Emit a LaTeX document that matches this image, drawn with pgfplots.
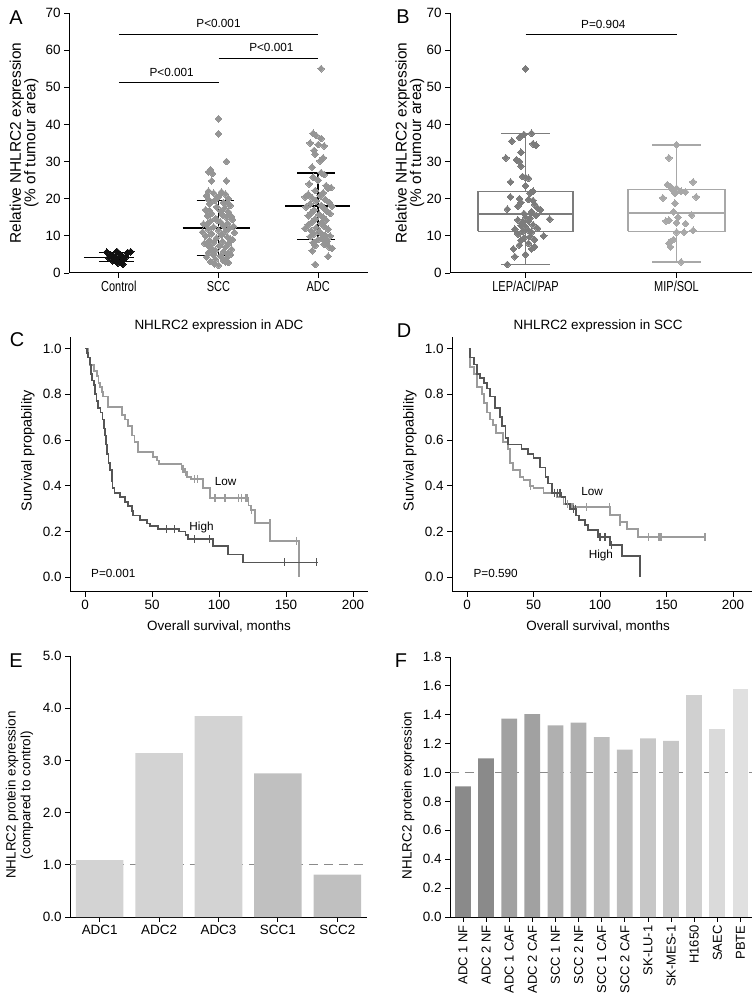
\documentclass[border=0pt]{standalone}
\usepackage{fontspec}
\setmainfont{Liberation Sans}
\newfontfamily\narrowfont[FakeStretch=0.76]{Liberation Sans}
\usepackage{pgfplots}
\pgfplotsset{compat=1.18}

\definecolor{ctl}{HTML}{111111}
\definecolor{pts}{HTML}{959595}
\definecolor{lep}{HTML}{7C7C7C}
\definecolor{mip}{HTML}{A8A8A8}
\definecolor{hi}{HTML}{555555}
\definecolor{lo}{HTML}{9C9C9C}
\definecolor{refline}{HTML}{8A8A8A}

\newcommand{\lab}{\fontsize{13.5}{15}\selectfont}
\newcommand{\annot}{\fontsize{11.8}{13}\selectfont}

\pgfplotsset{
  panel/.style={
    scale only axis, anchor=south west, clip=false,
    axis x line*=bottom, axis y line*=left,
    axis line style={line width=1pt,-},
    tick align=outside, major tick length=5pt,
    tick style={line width=0.9pt,black},
    tick label style={font=\lab},
    label style={font=\lab},
    every axis title shift=0pt,
    /pgf/number format/assume math mode=true,
  },
  dia/.style={only marks, color=#1, mark=square*, mark size=2.4pt,
    mark options={rotate=45, draw=#1, fill=#1, line width=0pt}},
  km/.style={const plot, line width=1.8pt, color=#1},
  cens/.style={only marks, mark=|, mark size=4pt,
    mark options={line width=1.3pt, draw=#1}},
  oneplace/.style={/pgf/number format/.cd, fixed, fixed zerofill, precision=1},
}

\begin{document}
\begin{tikzpicture}
\useasboundingbox (0,0) rectangle (753bp,1001bp);

% panel letters
\node[font=\fontsize{20}{22}\selectfont] at (16bp,983bp) {A};
\node[font=\fontsize{20}{22}\selectfont] at (403bp,984bp) {B};
\node[font=\fontsize{20}{22}\selectfont] at (17bp,661bp) {C};
\node[font=\fontsize{20}{22}\selectfont] at (404bp,670bp) {D};
\node[font=\fontsize{20}{22}\selectfont] at (16bp,340bp) {E};
\node[font=\fontsize{20}{22}\selectfont] at (401bp,340bp) {F};

% ---------- A
\begin{axis}[panel, at={(69bp,728bp)}, width=299bp, height=260bp,
  xmin=-0.5, xmax=2.5, ymin=0, ymax=70, ytick={0,10,20,30,40,50,60,70},
  xtick={0,1,2}, xticklabels={Control,SCC,ADC},
  xticklabel style={font=\narrowfont\fontsize{14.5}{15}\selectfont},
  ylabel style={at={(axis description cs:-0.15,0.5)}, anchor=center, align=center,
    font=\fontsize{15.5}{14.5}\selectfont},
  ylabel={Relative NHLRC2 expression\\(\% of tumour area)}]
\addplot[dia=pts] coordinates {
 (1.00,41.5)(1.00,37.5)(1.08,30.0)(0.92,27.8)(0.90,27.2)(0.94,26.8)(0.93,24.8)(1.08,24.8)
 (0.90,22.0)(1.03,21.8)(0.95,21.5)(1.07,21.2)(0.88,20.8)(1.00,20.5)(1.10,20.0)(0.96,19.5)
 (1.05,19.0)(0.91,18.6)(1.12,18.2)(0.98,17.8)(1.06,17.4)(0.87,17.0)(1.02,16.7)(1.10,16.4)
 (0.93,16.0)(1.04,15.7)(0.89,15.4)(1.08,15.0)(0.97,14.7)(1.14,14.4)(0.92,14.0)(1.02,13.7)
 (1.09,13.4)(0.88,13.0)(1.05,12.7)(0.95,12.4)(1.11,12.1)(0.90,11.8)(1.00,11.5)(1.07,11.2)
 (1.16,10.9)(0.93,10.6)(1.03,10.3)(0.87,10.0)(1.09,9.7)(0.98,9.4)(1.12,9.1)(0.91,8.8)
 (1.04,8.5)(0.95,8.2)(1.10,7.9)(0.89,7.6)(1.01,7.3)(1.07,7.0)(0.93,6.7)(1.13,6.4)
 (0.97,6.1)(1.05,5.8)(0.90,5.5)(1.09,5.2)(0.95,4.9)(1.02,4.6)(0.88,4.3)(1.08,4.0)
 (0.97,3.7)(1.05,3.4)(0.92,3.1)(1.10,2.8)(0.96,2.5)(1.00,2.1)(0.85,13.2)(1.13,15.2)
 (0.84,11.0)(1.14,9.0)(0.91,16.8)(1.09,18.8)(1.15,12.6)(0.86,8.0)(0.99,14.2)(0.90,19.8)
 (1.12,5.0)(1.07,3.0)};
\addplot[dia=pts] coordinates {
 (2.03,55.0)(1.95,37.6)(1.98,37.0)(2.03,36.2)(1.92,35.0)(2.00,34.6)(2.06,34.2)(1.96,33.0)
 (1.97,32.0)(2.05,31.0)(2.02,30.2)(1.94,28.5)(2.03,27.0)(1.95,25.8)(2.00,25.0)(1.91,24.0)
 (2.08,23.5)(2.10,22.8)(1.97,22.2)(2.05,21.6)(1.90,21.2)(2.02,20.8)(1.94,20.2)(2.07,19.8)
 (1.98,19.4)(2.11,19.0)(1.92,18.6)(2.03,18.2)(1.88,17.8)(2.06,17.4)(1.96,17.0)(2.09,16.6)
 (1.93,16.2)(2.01,15.8)(1.90,15.4)(2.05,15.0)(1.97,14.6)(2.08,14.2)(1.94,13.8)(2.03,13.4)
 (1.90,13.0)(2.06,12.6)(1.98,12.2)(2.10,11.8)(1.93,11.4)(2.02,11.0)(1.96,10.6)(2.07,10.2)
 (1.92,9.8)(2.04,9.4)(2.00,9.0)(2.09,8.6)(1.95,8.2)(2.06,7.8)(1.97,7.4)(2.11,7.0)
 (2.14,6.6)(1.94,6.0)(2.10,4.5)(1.97,2.3)(2.12,16.0)(1.87,20.5)(1.87,12.0)(2.13,23.0)
 (2.06,26.5)(2.12,10.0)(2.14,18.0)};
\addplot[dia=ctl] coordinates {
 (-0.12,5.6)(-0.02,5.8)(0.09,5.5)(0.12,5.7)(-0.08,4.9)(0.03,4.7)(0.07,4.3)(-0.10,4.1)
 (-0.03,3.9)(0.05,3.6)(-0.06,3.3)(0.02,3.0)(-0.01,2.7)(0.04,2.4)(-0.05,4.5)(0.00,5.2)};
% mean and SD
\addplot[black, line width=1.7pt] coordinates {(-0.35,4.2)(0.15,4.2)};
\addplot[black, line width=1.7pt] coordinates {(-0.2,3.1)(0.15,3.1)};
\addplot[black, line width=1.7pt] coordinates {(-0.2,5.5)(0.15,5.5)};
\addplot[black, line width=1.7pt] coordinates {(0,3.1)(0,5.5)};
\addplot[black, line width=1.7pt] coordinates {(0.64,12.1)(1.32,12.1)};
\addplot[black, line width=1.7pt] coordinates {(0.78,4.7)(1.16,4.7)};
\addplot[black, line width=1.7pt] coordinates {(0.78,19.5)(1.16,19.5)};
\addplot[black, line width=1.7pt] coordinates {(1,4.7)(1,19.5)};
\addplot[black, line width=1.7pt] coordinates {(1.67,18.0)(2.32,18.0)};
\addplot[black, line width=1.7pt] coordinates {(1.79,9.0)(2.165,9.0)};
\addplot[black, line width=1.7pt] coordinates {(1.79,27.0)(2.165,27.0)};
\addplot[black, line width=1.7pt] coordinates {(2,9.0)(2,27.0)};
% significance
\addplot[black, line width=1pt] coordinates {(0,64.3)(2,64.3)};
\addplot[black, line width=1pt] coordinates {(1,57.8)(2,57.8)};
\addplot[black, line width=1pt] coordinates {(0,51.3)(1,51.3)};
\node[font=\annot] at (axis cs:1,67.2) {P<0.001};
\node[font=\annot] at (axis cs:1.53,60.6) {P<0.001};
\node[font=\annot] at (axis cs:0.53,54.1) {P<0.001};
\end{axis}

% ---------- B
\begin{axis}[panel, at={(450bp,728bp)}, width=302bp, height=260bp,
  xmin=-0.5, xmax=1.5, ymin=0, ymax=70, ytick={0,10,20,30,40,50,60,70},
  xtick={0,1}, xticklabels={LEP/ACI/PAP,MIP/SOL},
  xticklabel style={font=\narrowfont\fontsize{14.5}{15}\selectfont},
  ylabel style={at={(axis description cs:-0.133,0.5)}, anchor=center, align=center,
    font=\fontsize{15.5}{14.5}\selectfont},
  ylabel={Relative NHLRC2 expression\\(\% of tumour area)}]
% boxes
\addplot[lep, line width=1.4pt] coordinates {(-0.315,11.2)(0.315,11.2)(0.315,22)(-0.315,22)(-0.315,11.2)};
\addplot[lep, line width=1.4pt] coordinates {(-0.315,15.9)(0.315,15.9)};
\addplot[lep, line width=1.4pt] coordinates {(0,22)(0,37.6)};
\addplot[lep, line width=1.4pt] coordinates {(0,11.2)(0,2.3)};
\addplot[lep, line width=1.4pt] coordinates {(-0.16,37.6)(0.16,37.6)};
\addplot[lep, line width=1.4pt] coordinates {(-0.16,2.3)(0.16,2.3)};
\addplot[mip, line width=1.4pt] coordinates {(0.68,11.2)(1.32,11.2)(1.32,22.5)(0.68,22.5)(0.68,11.2)};
\addplot[mip, line width=1.4pt] coordinates {(0.68,16.2)(1.32,16.2)};
\addplot[mip, line width=1.4pt] coordinates {(1,22.5)(1,34.5)};
\addplot[mip, line width=1.4pt] coordinates {(1,11.2)(1,3.0)};
\addplot[mip, line width=1.4pt] coordinates {(0.84,34.5)(1.16,34.5)};
\addplot[mip, line width=1.4pt] coordinates {(0.84,3.0)(1.16,3.0)};
\addplot[dia=lep] coordinates {
 (0.00,55.0)(0.04,37.6)(-0.01,37.3)(-0.04,36.5)(-0.09,35.5)(0.05,34.8)(0.07,34.4)(-0.03,32.5)
 (-0.13,31.0)(-0.06,30.5)(-0.04,30.0)(-0.03,28.8)(-0.02,26.0)(0.00,25.8)(0.02,25.5)(-0.10,24.5)
 (0.00,23.5)(0.05,22.0)(0.03,21.5)(-0.10,20.5)(-0.04,20.0)(0.02,19.8)(0.05,19.5)(-0.03,19.0)
 (0.06,18.5)(-0.05,18.0)(0.08,17.5)(-0.12,17.2)(0.10,17.0)(0.04,16.5)(-0.01,16.0)(0.07,15.5)
 (0.00,15.0)(0.03,14.8)(0.16,14.5)(-0.05,14.3)(0.02,14.0)(-0.02,13.5)(0.05,13.0)(-0.03,12.8)
 (0.00,12.5)(0.08,12.0)(-0.07,11.8)(0.02,11.5)(-0.02,11.2)(0.04,11.0)(-0.05,10.5)(0.12,10.0)
 (0.03,9.8)(-0.01,9.5)(0.06,9.0)(-0.03,8.8)(0.02,8.0)(-0.04,7.5)(0.06,7.1)(-0.08,6.5)
 (0.04,6.5)(0.00,5.0)(-0.07,4.4)(-0.12,2.3)};
\addplot[dia=mip] coordinates {
 (1.00,34.5)(0.95,31.0)(1.11,24.5)(0.94,23.8)(0.96,23.2)(1.00,22.8)(0.97,22.5)(1.03,22.0)
 (1.06,21.8)(0.99,21.5)(1.13,20.5)(0.91,20.2)(0.99,18.8)(0.98,16.5)(1.10,15.6)(1.01,15.0)
 (0.95,14.2)(0.93,14.0)(1.06,13.3)(1.00,13.5)(1.11,11.5)(1.00,11.0)(1.05,11.0)(0.98,9.0)
 (0.96,8.5)(0.95,8.0)(0.96,7.0)(1.03,3.0)};
\addplot[black, line width=1pt] coordinates {(0,64.3)(1,64.3)};
\node[font=\annot] at (axis cs:0.515,66.9) {P=0.904};
\end{axis}

% ---------- C
\begin{axis}[panel, at={(70bp,409bp)}, width=298bp, height=255bp,
  xmin=-11.2, xmax=211.2, ymin=-0.064, ymax=1.05,
  xtick={0,50,100,150,200}, ytick={0,0.2,0.4,0.6,0.8,1},
  yticklabel style={oneplace},
  title={NHLRC2 expression in ADC},
  title style={at={(axis description cs:0.5,1.043)}, anchor=center, font=\lab},
  xlabel={Overall survival, months},
  xlabel style={at={(axis description cs:0.5,-0.137)}, anchor=center},
  ylabel={Survival propability},
  ylabel style={at={(axis description cs:-0.141,0.553)}, anchor=center,
    font=\fontsize{14.5}{15}\selectfont}]
\addplot[km=lo] coordinates {
 (0,1.0)(2,0.96)(3.7,0.926)(7,0.90)(8.7,0.88)(10,0.85)(11.2,0.83)(12.5,0.81)(13.7,0.79)
 (17,0.744)(27.4,0.71)(30,0.69)(32,0.66)(35,0.62)(37,0.59)(39.8,0.547)(51,0.525)(53.5,0.51)
 (55,0.495)(72,0.475)(74.6,0.46)(76,0.44)(79,0.43)(88,0.39)(93,0.346)(122,0.314)(124,0.293)
 (126.7,0.237)(138,0.159)(160,0.0)};
\addplot[cens=lo] coordinates {
 (72.5,0.475)(73.5,0.475)(75,0.46)(81.6,0.43)(84,0.43)(97,0.346)(104.5,0.346)(114.4,0.346)
 (117,0.346)(120,0.346)(121,0.346)(124.5,0.293)(138,0.237)(158,0.159)};
\addplot[km=hi] coordinates {
 (0,1.0)(1.5,0.98)(2.5,0.96)(3.5,0.93)(4.5,0.89)(5.5,0.86)(6.5,0.84)(7.5,0.80)(8.5,0.77)
 (9.5,0.74)(11.5,0.72)(13,0.69)(14,0.65)(15,0.62)(15.8,0.58)(16.5,0.54)(17.5,0.50)(18.7,0.47)
 (19.9,0.42)(20.5,0.39)(22,0.37)(26,0.35)(30,0.33)(32,0.31)(35,0.29)(36,0.27)(41,0.25)
 (46,0.235)(48.5,0.225)(54.7,0.21)(70,0.2)(75,0.185)(77,0.167)(95.8,0.137)(107,0.10)
 (118,0.065)(174,0.065)};
\addplot[cens=hi] coordinates {
 (61,0.21)(67,0.21)(81.6,0.167)(92.8,0.167)(149,0.065)(173,0.065)};
\node[font=\annot, anchor=west] at (axis cs:2,0.015) {P=0.001};
\node[font=\annot] at (axis cs:105,0.42) {Low};
\node[font=\annot] at (axis cs:87,0.22) {High};
\end{axis}

% ---------- D
\begin{axis}[panel, at={(452bp,409bp)}, width=300bp, height=255bp,
  xmin=-11.3, xmax=214.3, ymin=-0.064, ymax=1.05,
  xtick={0,50,100,150,200}, ytick={0,0.2,0.4,0.6,0.8,1},
  yticklabel style={oneplace},
  title={NHLRC2 expression in SCC},
  title style={at={(axis description cs:0.487,1.043)}, anchor=center, font=\lab},
  xlabel={Overall survival, months},
  xlabel style={at={(axis description cs:0.487,-0.137)}, anchor=center},
  ylabel={Survival propability},
  ylabel style={at={(axis description cs:-0.14,0.553)}, anchor=center,
    font=\fontsize{14.5}{15}\selectfont}]
\addplot[km=lo] coordinates {
 (1.25,1.0)(2.5,0.92)(5,0.89)(7.3,0.83)(11,0.80)(12.5,0.76)(14.8,0.72)(17.5,0.69)(19.8,0.665)
 (22,0.63)(27.3,0.59)(31,0.56)(32.5,0.50)(34.8,0.47)(39.8,0.44)(42.5,0.425)(47.4,0.40)
 (50,0.39)(57.5,0.37)(67.5,0.35)(72.5,0.32)(78.75,0.306)(107.5,0.272)(115,0.243)
 (120.3,0.21)(128.8,0.175)(179,0.175)};
\addplot[cens=lo] coordinates {
 (47.5,0.40)(75.5,0.32)(80,0.306)(90,0.306)(107,0.306)(115,0.243)(136.3,0.175)(143.8,0.175)
 (145.1,0.175)(146.4,0.175)(179,0.175)};
\addplot[km=hi] coordinates {
 (1.25,1.0)(2.5,0.96)(5,0.93)(7.5,0.89)(10,0.87)(12.5,0.85)(15,0.825)(17.5,0.79)(21,0.74)
 (25,0.70)(26.5,0.66)(29,0.61)(31,0.58)(41,0.56)(46,0.54)(50,0.52)(55,0.48)(59,0.44)
 (61,0.41)(64,0.37)(71,0.35)(74,0.32)(77.5,0.30)(82,0.27)(84,0.25)(89,0.23)(91,0.206)
 (98.5,0.177)(107.5,0.141)(116.3,0.094)(130,0.0)};
\addplot[cens=hi] coordinates {
 (66,0.37)(68,0.37)(70,0.37)(80,0.30)(81.5,0.30)(100,0.177)(103.8,0.177)(108.5,0.141)};
\node[font=\annot, anchor=west] at (axis cs:2.3,0.015) {P=0.590};
\node[font=\annot] at (axis cs:94,0.374) {Low};
\node[font=\annot] at (axis cs:100.7,0.097) {High};
\end{axis}

% ---------- E
\begin{axis}[panel, at={(70bp,84bp)}, width=297bp, height=261bp,
  xmin=-0.5, xmax=4.5, ymin=0, ymax=5, ytick={0,1,2,3,4,5},
  yticklabel style={oneplace},
  xtick={0,1,2,3,4}, xticklabels={ADC1,ADC2,ADC3,SCC1,SCC2},
  ylabel style={at={(axis description cs:-0.17,0.467)}, anchor=center, align=center},
  ylabel={NHLRC2 protein expression\\(compared to control)}]
\addplot[refline, line width=1.2pt, dash pattern=on 9pt off 6pt] coordinates {(-0.5,1)(4.5,1)};
\addplot[ybar, bar width=0.8, bar shift=0pt, fill={rgb,255:red,211;green,211;blue,211}, draw=none]
  coordinates {(0,1.09)(1,3.14)(2,3.85)};
\addplot[ybar, bar width=0.8, bar shift=0pt, fill={rgb,255:red,192;green,192;blue,192}, draw=none]
  coordinates {(3,2.75)(4,0.81)};
\end{axis}

% ---------- F
\begin{axis}[panel, at={(450bp,84bp)}, width=302bp, height=260bp,
  xmin=-0.56, xmax=12.5, ymin=0, ymax=1.8,
  ytick={0,0.2,0.4,0.6,0.8,1,1.2,1.4,1.6,1.8},
  yticklabel style={oneplace},
  xtick={0,...,12},
  xticklabels={ADC 1 NF,ADC 2 NF,ADC 1 CAF,ADC 2 CAF,SCC 1 NF,SCC 2 NF,SCC 1 CAF,SCC 2 CAF,SK-LU-1,SK-MES-1,H1650,SAEC,PBTE},
  xticklabel style={rotate=90, anchor=east, font=\fontsize{13}{14}\selectfont},
  ylabel style={at={(axis description cs:-0.139,0.467)}, anchor=center},
  ylabel={NHLRC2 protein expression}]
\addplot[refline, line width=1.2pt, dash pattern=on 9pt off 6pt] coordinates {(-0.56,1)(12.5,1)};
\addplot[ybar, bar width=0.68, bar shift=0pt, fill={rgb,255:red,138;green,138;blue,138}, draw=none]
  coordinates {(0,0.905)(1,1.099)};
\addplot[ybar, bar width=0.68, bar shift=0pt, fill={rgb,255:red,161;green,161;blue,161}, draw=none]
  coordinates {(2,1.373)(3,1.405)};
\addplot[ybar, bar width=0.68, bar shift=0pt, fill={rgb,255:red,176;green,176;blue,176}, draw=none]
  coordinates {(4,1.327)(5,1.345)};
\addplot[ybar, bar width=0.68, bar shift=0pt, fill={rgb,255:red,189;green,189;blue,189}, draw=none]
  coordinates {(6,1.246)(7,1.158)};
\addplot[ybar, bar width=0.68, bar shift=0pt, fill={rgb,255:red,199;green,199;blue,199}, draw=none]
  coordinates {(8,1.237)(9,1.219)};
\addplot[ybar, bar width=0.68, bar shift=0pt, fill={rgb,255:red,208;green,208;blue,208}, draw=none]
  coordinates {(10,1.537)};
\addplot[ybar, bar width=0.68, bar shift=0pt, fill={rgb,255:red,218;green,218;blue,218}, draw=none]
  coordinates {(11,1.302)};
\addplot[ybar, bar width=0.68, bar shift=0pt, fill={rgb,255:red,224;green,224;blue,224}, draw=none]
  coordinates {(12,1.579)};
\end{axis}
\end{tikzpicture}
\end{document}
